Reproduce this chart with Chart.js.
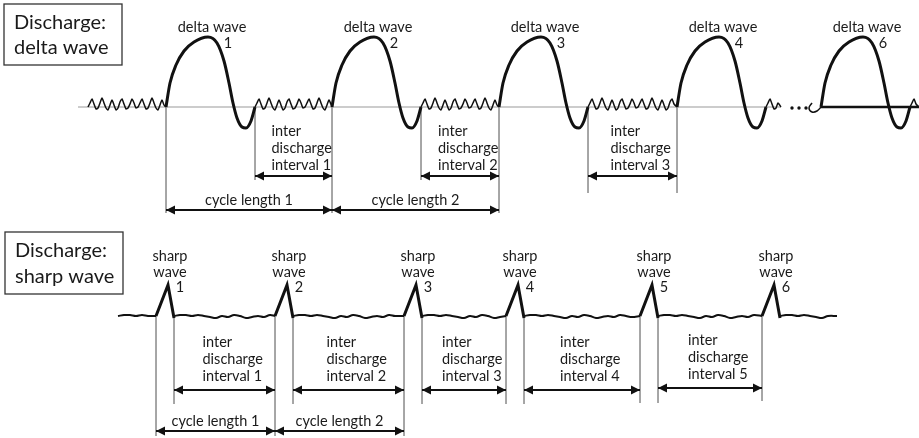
<!DOCTYPE html>
<html>
<head>
<meta charset="utf-8">
<script src="https://cdn.jsdelivr.net/npm/chart.js@4"></script>
<style>
  html, body { margin: 0; padding: 0; background: #fff; }
  canvas { display: block; }
</style>
</head>
<body>
<canvas id="diagram" width="919" height="438"></canvas>
<script>
// ---- top panel: delta wave discharges (x = time, y = page units) ----
const deltaBaseY = 107;
const deltaOnsets = [166, 332, 499, 677, 821];
const deltaNumbers = ['1', '2', '3', '4', '6'];
// one delta wave as [dx, dy] from its onset
const deltaShape = [[0,0],[4,-24],[10,-42],[18,-56],[28,-65],[42,-70],[51,-64],[58,-46],[63,-24],[67,-4],[71,11],[76,20],[80,21],[85,14],[89,0]];
const deltaNoise = [0,-4,-8,-3,2,1,-4,-9,-4,1,3,-2,-7,-2,3,1,-5,-8,-3,2,1,-3,-8,-4,1];
const deltaNoiseSpans = [[88,166],[255,332],[421,499],[588,677],[766,781],[910,919]];
const deltaCurl = [[812,103],[809,108],[812,112],[817,111],[821,107]];
const deltaDots = [792, 799, 806];
const deltaGuides = [[166,213],[255,180],[332,213],[421,180],[499,213],[588,193],[677,193]];
const deltaIntervals = [[255,332],[421,499],[588,677]];
const deltaCycles = [[166,332],[332,499]];

// ---- bottom panel: sharp wave discharges ----
const sharpBaseY = 316;
const sharpOnsets = [156, 275, 404, 506, 640, 762];
const sharpNumbers = ['1', '2', '3', '4', '5', '6'];
const sharpShape = [[0,0],[12,-31],[18,2]];
const sharpNoise = [0,-1,-1,0,-1,0,1,2,0,1,-1,0,2,1,0,1,-1,0,1,2,1,0];
const sharpNoiseSpans = [[118,156],[174,275],[293,404],[422,506],[524,640],[658,762],[780,837]];
const sharpGuides = [[156,436],[174,404],[275,436],[293,404],[404,436],[422,404],[506,404],[524,404],[640,403],[658,403],[762,401]];
const sharpIntervals = [[174,275],[293,404],[422,506],[524,640],[658,762]];
const sharpCycles = [[156,275],[275,404]];

const INK = '#111';
const GRID = '#9a9a9a';
const FONT = 'Lato, "Open Sans", sans-serif';

function shapeAt(shape, x0, y0) {
    return shape.map(p => ({ x: x0 + p[0], y: y0 + p[1] }));
}

function noiseSpan(pattern, step, x0, x1, y0) {
    const pts = [];
    let i = 0;
    for (let x = x0; x < x1 - step / 2; x += step, i++) {
        pts.push({ x: x, y: y0 + pattern[i % pattern.length] });
    }
    pts.push({ x: x1, y: y0 });
    return pts;
}

function line(data, color, width, tension, order) {
    return { data: data, borderColor: color, borderWidth: width, tension: tension, showLine: true, pointRadius: 0, order: order };
}

const datasets = [];
// delta panel
datasets.push(line([{x:78,y:deltaBaseY},{x:781,y:deltaBaseY}], GRID, 1.2, 0, 3));
datasets.push(line([{x:821,y:deltaBaseY},{x:919,y:deltaBaseY}], INK, 2.5, 0, 1));
deltaOnsets.forEach(x0 => {
    const ds = line(shapeAt(deltaShape, x0, deltaBaseY), INK, 3, 0.4, 1);
    ds.cubicInterpolationMode = 'monotone';
    datasets.push(ds);
});
deltaNoiseSpans.forEach(s => datasets.push(line(noiseSpan(deltaNoise, 2, s[0], s[1], deltaBaseY), INK, 1.5, 0.2, 1)));
datasets.push(line(deltaCurl.map(p => ({x:p[0], y:p[1]})), INK, 1.5, 0.4, 1));
datasets.push({ data: deltaDots.map(x => ({x:x, y:deltaBaseY + 1})), showLine: false, pointRadius: 1.7, backgroundColor: INK, borderWidth: 0, order: 1 });
deltaGuides.forEach(g => datasets.push(line([{x:g[0],y:deltaBaseY},{x:g[0],y:g[1]}], GRID, 1, 0, 2)));
deltaIntervals.forEach(a => datasets.push(line([{x:a[0],y:176},{x:a[1],y:176}], INK, 2, 0, 1)));
deltaCycles.forEach(a => datasets.push(line([{x:a[0],y:210},{x:a[1],y:210}], INK, 2, 0, 1)));
// sharp panel
sharpOnsets.forEach(x0 => datasets.push(line(shapeAt(sharpShape, x0, sharpBaseY), INK, 3, 0, 1)));
sharpNoiseSpans.forEach(s => datasets.push(line(noiseSpan(sharpNoise, 6, s[0], s[1], sharpBaseY), INK, 2, 0.35, 1)));
sharpGuides.forEach(g => datasets.push(line([{x:g[0],y:sharpBaseY},{x:g[0],y:g[1]}], GRID, 1, 0, 2)));
sharpIntervals.forEach((a, i) => datasets.push(line([{x:a[0],y:i === 4 ? 388 : 390},{x:a[1],y:i === 4 ? 388 : 390}], INK, 2, 0, 1)));
sharpCycles.forEach(a => datasets.push(line([{x:a[0],y:431},{x:a[1],y:431}], INK, 2, 0, 1)));

const decor = {
    id: 'decor',
    afterDatasetsDraw(chart) {
        const { ctx, scales: { x, y } } = chart;
        const px = v => x.getPixelForValue(v);
        const py = v => y.getPixelForValue(v);
        ctx.save();

        // arrowheads on both ends of each span
        const head = (xp, yp, dir) => {
            ctx.beginPath();
            ctx.moveTo(xp, yp);
            ctx.lineTo(xp - dir * 9, yp - 4.5);
            ctx.lineTo(xp - dir * 9, yp + 4.5);
            ctx.closePath();
            ctx.fill();
        };
        ctx.fillStyle = INK;
        const arrows = (spans, yv) => spans.forEach((a, i) => {
            const yy = py(typeof yv === 'function' ? yv(i) : yv);
            head(px(a[0]), yy, -1);
            head(px(a[1]), yy, 1);
        });
        arrows(deltaIntervals, 176);
        arrows(deltaCycles, 210);
        arrows(sharpIntervals, i => (i === 4 ? 388 : 390));
        arrows(sharpCycles, 431);

        // title boxes
        ctx.strokeStyle = '#333';
        ctx.lineWidth = 1.3;
        ctx.strokeRect(px(4), py(4), px(122) - px(4), py(65) - py(4));
        ctx.strokeRect(px(5), py(232), px(123) - px(5), py(294) - py(232));
        ctx.fillStyle = '#1a1a1a';
        ctx.textBaseline = 'middle';
        ctx.textAlign = 'left';
        ctx.font = '20px ' + FONT;
        ctx.fillText('Discharge:', px(14), py(23));
        ctx.fillText('delta wave', px(14), py(48));
        ctx.fillText('Discharge:', px(15), py(251));
        ctx.fillText('sharp wave', px(15), py(277));

        ctx.font = '14.5px ' + FONT;
        // wave labels
        ctx.textAlign = 'center';
        deltaOnsets.forEach((x0, i) => {
            ctx.fillText('delta wave', px(x0 + 46), py(27));
            ctx.fillText(deltaNumbers[i], px(x0 + 62), py(43));
        });
        sharpOnsets.forEach((x0, i) => {
            ctx.fillText('sharp', px(x0 + 14), py(256));
            ctx.fillText('wave', px(x0 + 14), py(272));
            ctx.fillText(sharpNumbers[i], px(x0 + 24), py(287));
        });
        // cycle lengths
        deltaCycles.forEach((a, i) => ctx.fillText('cycle length ' + (i + 1), px((a[0] + a[1]) / 2), py(200)));
        sharpCycles.forEach((a, i) => ctx.fillText('cycle length ' + (i + 1), px((a[0] + a[1]) / 2), py(421)));
        // inter discharge intervals
        ctx.textAlign = 'left';
        const intervalText = (spans, arrowY) => spans.forEach((a, i) => {
            const lx = px((a[0] + a[1]) / 2 - 22);
            const ay = typeof arrowY === 'function' ? arrowY(i) : arrowY;
            ctx.fillText('inter', lx, py(ay - 45));
            ctx.fillText('discharge', lx, py(ay - 28));
            ctx.fillText('interval ' + (i + 1), lx, py(ay - 11));
        });
        intervalText(deltaIntervals, 176);
        intervalText(sharpIntervals, i => (i === 4 ? 388 : 390) - 3);
        ctx.restore();
    }
};

new Chart(document.getElementById('diagram').getContext('2d'), {
    type: 'scatter',
    data: { datasets: datasets },
    options: {
        responsive: false,
        animation: false,
        layout: { padding: 0, autoPadding: false },
        plugins: { legend: { display: false }, tooltip: { enabled: false } },
        scales: {
            x: { type: 'linear', min: 0, max: 919, display: false },
            y: { type: 'linear', min: 0, max: 438, reverse: true, display: false }
        }
    },
    plugins: [decor]
});
</script>
</body>
</html>
